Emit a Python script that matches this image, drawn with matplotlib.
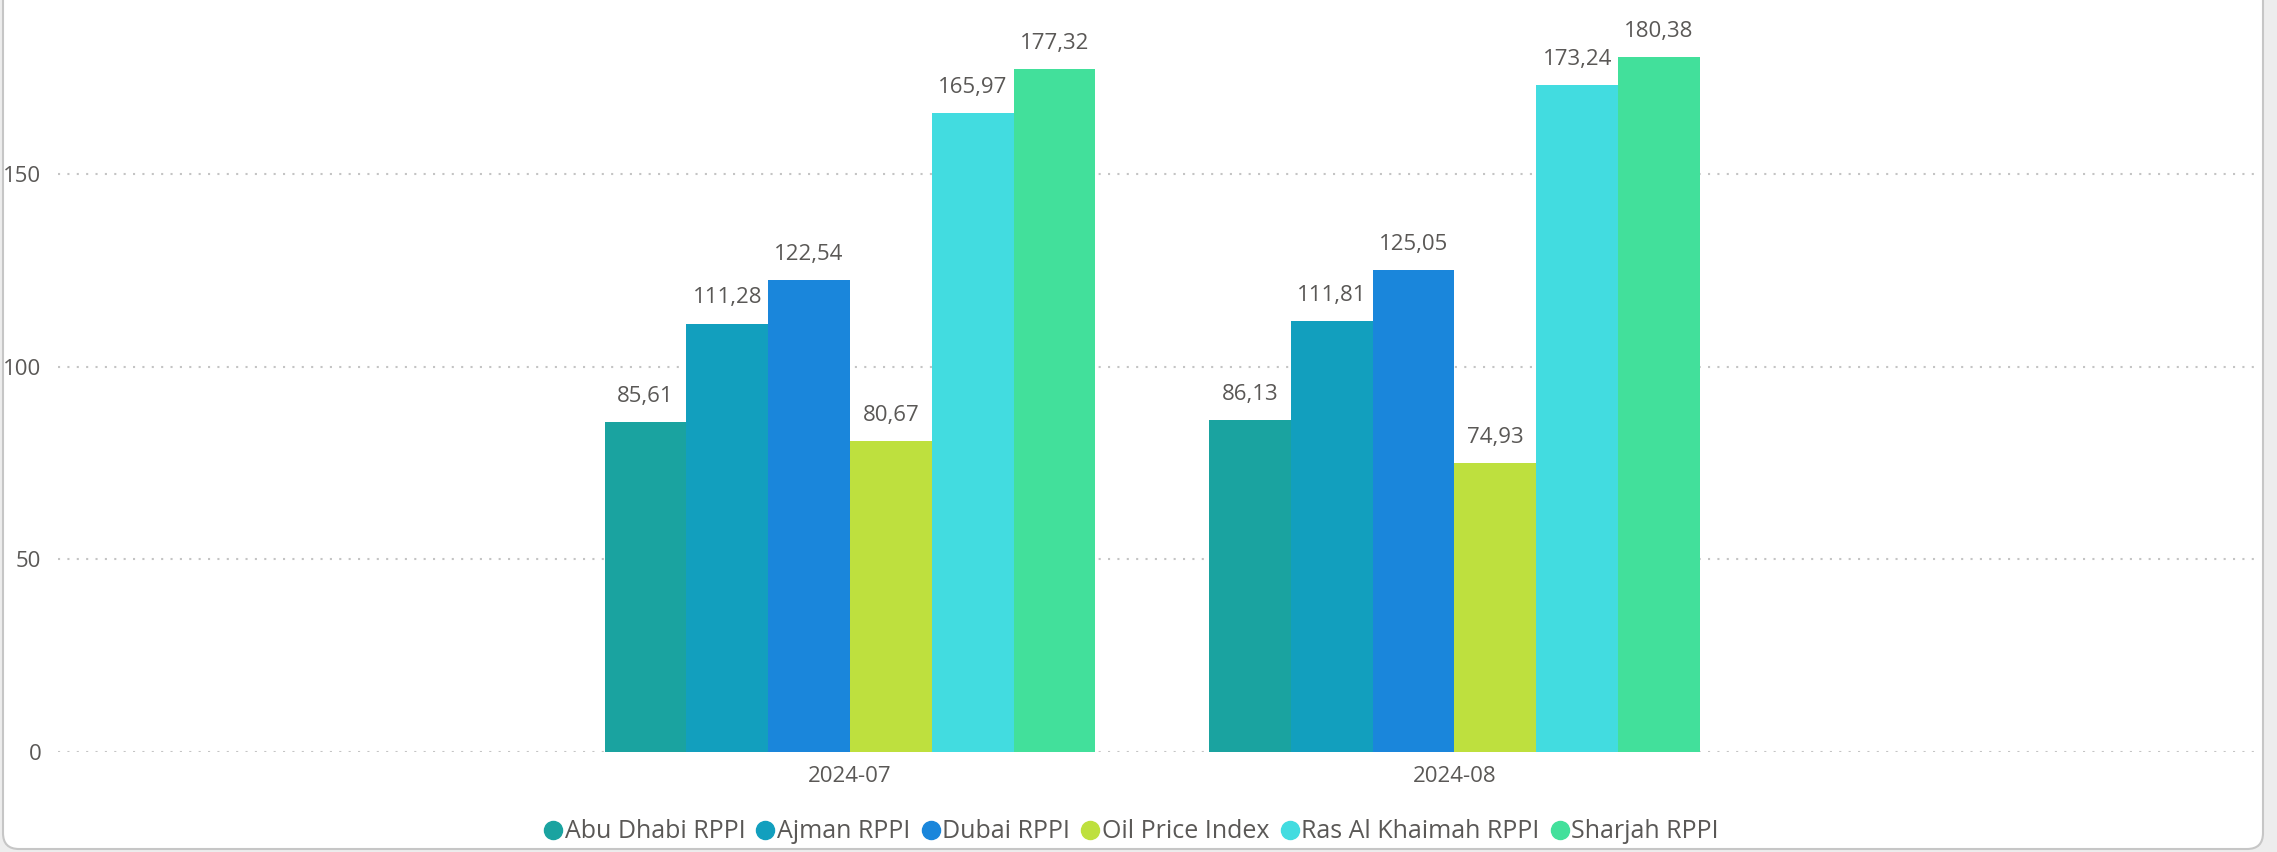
import matplotlib.pyplot as plt
from matplotlib.patches import FancyBboxPatch
from matplotlib.lines import Line2D
from matplotlib.transforms import IdentityTransform
import numpy as np

months = ["2024-07", "2024-08"]
series = ["Abu Dhabi RPPI", "Ajman RPPI", "Dubai RPPI", "Oil Price Index",
          "Ras Al Khaimah RPPI", "Sharjah RPPI"]
abu_dhabi = [85.61, 86.13]
ajman = [111.28, 111.81]
dubai = [122.54, 125.05]
oil = [80.67, 74.93]
ras_al_khaimah = [165.97, 173.24]
sharjah = [177.32, 180.38]
yticks = [0, 50, 100, 150]

colors = ["#1AA3A0", "#129FBE", "#1A86DB", "#BEE03E", "#42DCE0", "#42E09B"]
txt = "#5A5856"
plt.rcParams['font.family'] = ['Open Sans', 'DejaVu Sans']

W, H = 2277, 852
fig = plt.figure(figsize=(W / 100, H / 100), dpi=100)
fig.patch.set_facecolor("#EDEDED")

# white card with rounded corners
card = FancyBboxPatch((3, 3), 2260, 900, boxstyle="round,pad=0,rounding_size=16",
                      facecolor="white", edgecolor="#C6C6C6", linewidth=1.5,
                      transform=IdentityTransform(), zorder=0)
fig.add_artist(card)

ax = fig.add_axes([58 / W, 100 / H, (2257 - 58) / W, 752 / H])
ax.set_facecolor("none")

values = [abu_dhabi, ajman, dubai, oil, ras_al_khaimah, sharjah]
x = np.arange(len(months))
w = 0.812 / len(series)
for i, (name, vals) in enumerate(zip(series, values)):
    bars = ax.bar(x + (i - 2.5) * w, vals, w, color=colors[i], label=name, zorder=3)
    ax.bar_label(bars, labels=[f"{v:.2f}".replace(".", ",") for v in vals],
                 padding=11, color=txt, fontsize=16)

ax.set_xlim(-1.31, 2.3275)
ax.set_ylim(0, 195.3)
ax.set_xticks(x, months)
ax.set_yticks(yticks)
ax.tick_params(length=0, colors=txt, labelsize=16)
ax.tick_params(axis="y", pad=12)
ax.tick_params(axis="x", pad=10)
ax.grid(axis="y", color="#C4C4C4", linestyle=(0, (1, 3.5)), linewidth=1.5, zorder=0)
for s in ax.spines.values():
    s.set_visible(False)

handles = [Line2D([], [], marker="o", linestyle="", markersize=13, color=c) for c in colors]
fig.legend(handles, series, loc="center", bbox_to_anchor=(0.497, 20 / H), ncol=6,
           frameon=False, fontsize=18, labelcolor=txt, handlelength=0.7,
           handletextpad=0.12, columnspacing=0.45)

fig.savefig("out.png", dpi=100, facecolor=fig.get_facecolor())
